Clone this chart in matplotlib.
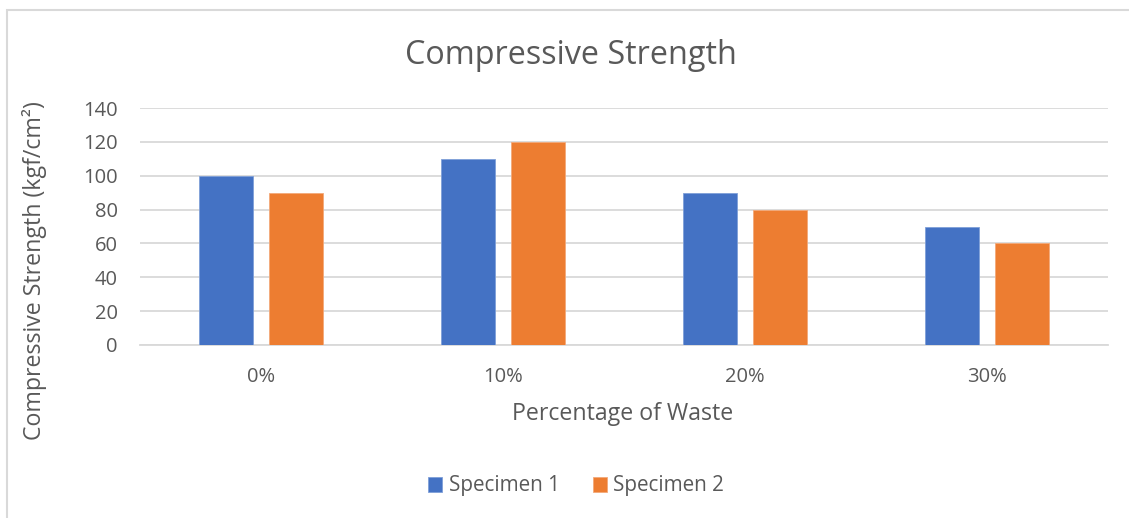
import matplotlib
matplotlib.use("Agg")
import matplotlib.pyplot as plt
from matplotlib.patches import Rectangle
import numpy as np

categories = ["0%", "10%", "20%", "30%"]
specimen_1 = [100, 110, 90, 70]
specimen_2 = [90, 120, 80, 60]
series_names = ["Specimen 1", "Specimen 2"]
yticks = [0, 20, 40, 60, 80, 100, 120, 140]

W, H = 1129, 518
plt.rcParams["font.family"] = ["Open Sans", "DejaVu Sans"]
text_color = "#595959"
grid_color = "#d9d9d9"
blue = "#4472C4"
orange = "#ED7D31"

fig = plt.figure(figsize=(W / 100, H / 100), dpi=100)
fig.patch.set_facecolor("white")

# chart frame (left and top edges visible)
fig.patches.append(Rectangle((7 / W, -0.1), 1.2, 1 - 10 / H + 0.1,
                             transform=fig.transFigure, fill=False,
                             edgecolor="#d9d9d9", linewidth=1.5))

left, right, top, bottom = 140, 1108, 108, 345
ax = fig.add_axes([left / W, 1 - bottom / H, (right - left) / W, (bottom - top) / H])

x = np.arange(len(categories))
width = 0.223
offset = 0.1445
ax.bar(x - offset, specimen_1, width, color=blue, edgecolor="#7f9fd8",
       linewidth=0.6, label=series_names[0], zorder=3)
ax.bar(x + offset, specimen_2, width, color=orange, edgecolor="#f3a97a",
       linewidth=0.6, label=series_names[1], zorder=3)

ax.set_xlim(-0.5, len(categories) - 0.5)
ax.set_ylim(0, 140)
ax.set_yticks(yticks)
ax.set_xticks(x)
ax.set_xticklabels(categories)
ax.yaxis.grid(True, color=grid_color, linewidth=1.3, zorder=0)
ax.set_axisbelow(True)
for s in ["left", "right", "top"]:
    ax.spines[s].set_visible(False)
ax.spines["bottom"].set_color(grid_color)
ax.spines["bottom"].set_linewidth(1.3)
ax.tick_params(axis="both", length=0, labelsize=14.5, colors=text_color)
ax.tick_params(axis="y", pad=16)
ax.tick_params(axis="x", pad=16)

fig.text(571 / W, 1 - 55 / H, "Compressive Strength", ha="center", va="center",
         fontsize=23.3, color=text_color)
fig.text(623 / W, 1 - 414 / H, "Percentage of Waste", ha="center", va="center",
         fontsize=16.7, color=text_color)
fig.text(35 / W, 1 - 271 / H, "Compressive Strength (kgf/cm²)", ha="center",
         va="center", rotation=90, fontsize=16.7, color=text_color)

leg = fig.legend(loc="center", bbox_to_anchor=(576 / W, 1 - 486 / H), ncol=2,
                 frameon=False, fontsize=14.9, handlelength=0.7, handleheight=0.7,
                 handletextpad=0.3, columnspacing=1.6, labelcolor=text_color)

fig.savefig("out.png", dpi=100, facecolor="white")
